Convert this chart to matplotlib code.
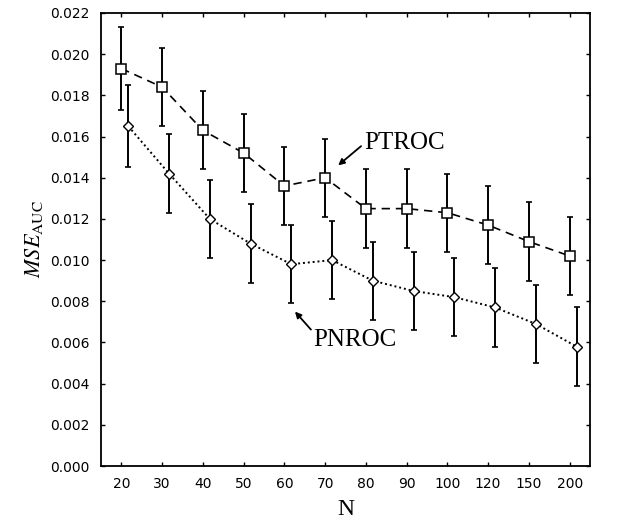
import numpy as np
import matplotlib
matplotlib.use("Agg")
import matplotlib.pyplot as plt

# Sample sizes (categorical axis) and mean squared error of the AUC estimate
n_labels = ["20", "30", "40", "50", "60", "70", "80", "90", "100", "120", "150", "200"]

ptroc_mse = [0.0193, 0.0184, 0.0163, 0.0152, 0.0136, 0.0140,
             0.0125, 0.0125, 0.0123, 0.0117, 0.0109, 0.0102]
ptroc_err = [0.0020, 0.0019, 0.0019, 0.0019, 0.0019, 0.0019,
             0.0019, 0.0019, 0.0019, 0.0019, 0.0019, 0.0019]

pnroc_mse = [0.0165, 0.0142, 0.0120, 0.0108, 0.0098, 0.0100,
             0.0090, 0.0085, 0.0082, 0.0077, 0.0069, 0.0058]
pnroc_err = [0.0020, 0.0019, 0.0019, 0.0019, 0.0019, 0.0019,
             0.0019, 0.0019, 0.0019, 0.0019, 0.0019, 0.0019]

y_ticks = [0.000, 0.002, 0.004, 0.006, 0.008, 0.010, 0.012,
           0.014, 0.016, 0.018, 0.020, 0.022]

plt.rcParams["mathtext.fontset"] = "stix"

fig = plt.figure(figsize=(6.25, 5.28), dpi=100)
ax = fig.add_axes([0.1616, 0.1174, 0.7824, 0.858])

x = np.arange(len(n_labels))
shift = 0.17

ax.errorbar(x, ptroc_mse, yerr=ptroc_err, fmt="none", ecolor="black",
            elinewidth=1.4, capsize=2.2, capthick=1.2, zorder=2)
ax.plot(x, ptroc_mse, color="black", linestyle=(0, (5, 3.5)), linewidth=1.2,
        marker="s", markersize=7, markerfacecolor="white",
        markeredgecolor="black", markeredgewidth=1.1, zorder=3)

ax.errorbar(x + shift, pnroc_mse, yerr=pnroc_err, fmt="none", ecolor="black",
            elinewidth=1.4, capsize=2.2, capthick=1.2, zorder=2)
ax.plot(x + shift, pnroc_mse, color="black", linestyle=(0, (1, 1.5)), linewidth=1.4,
        marker="D", markersize=5, markerfacecolor="white",
        markeredgecolor="black", markeredgewidth=1.0, zorder=3)

ax.set_xlim(-0.5, len(n_labels) - 0.5)
ax.set_ylim(0, 0.022)
ax.set_xticks(x)
ax.set_xticklabels(n_labels)
ax.set_yticks(y_ticks)
ax.set_yticklabels([f"{v:.3f}" for v in y_ticks])

ax.tick_params(direction="in", length=3, width=1, top=True, right=True,
               labelsize=10, pad=8)
for spine in ax.spines.values():
    spine.set_linewidth(1.3)

ax.set_xlabel("N", fontname="Liberation Serif", fontsize=17, labelpad=6)
ax.set_ylabel(r"$\mathit{MSE}_{\mathrm{AUC}}$", fontsize=16, labelpad=4)

ax.annotate("PTROC", xy=(5.32, 0.0146), xytext=(5.95, 0.0157),
            fontsize=18, fontname="Liberation Serif", va="center", ha="left",
            arrowprops=dict(arrowstyle="-|>", color="black", lw=1.3,
                            mutation_scale=9, shrinkA=0, shrinkB=0,
                            relpos=(0.0, 0.45)))
ax.annotate("PNROC", xy=(4.26, 0.0075), xytext=(4.72, 0.0061),
            fontsize=18, fontname="Liberation Serif", va="center", ha="left",
            arrowprops=dict(arrowstyle="-|>", color="black", lw=1.3,
                            mutation_scale=9, shrinkA=0, shrinkB=0,
                            relpos=(0.0, 0.85)))

fig.savefig("out.png", dpi=100)
